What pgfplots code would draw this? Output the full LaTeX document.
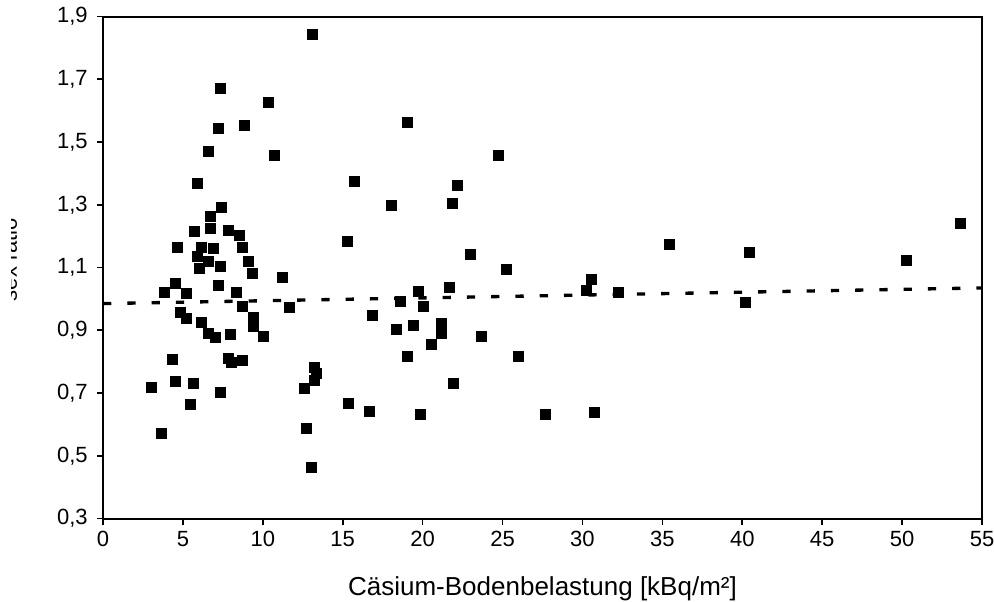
\documentclass[border=0pt]{standalone}
\usepackage{fontspec}
\setmainfont{Liberation Sans}
\usepackage{pgfplots}
\pgfplotsset{compat=1.18}

% sex ratio vs. caesium soil contamination
\pgfplotstableread{
x y
13.12 1.843
7.32 1.671
10.33 1.626
7.24 1.545
8.82 1.553
6.61 1.469
10.72 1.458
5.90 1.370
7.43 1.291
6.74 1.264
5.74 1.216
6.74 1.224
7.84 1.219
8.53 1.203
4.63 1.164
6.13 1.164
6.90 1.160
8.72 1.164
5.90 1.135
6.61 1.120
6.03 1.097
7.32 1.104
9.12 1.120
9.32 1.083
11.22 1.070
15.29 1.185
4.53 1.051
3.84 1.022
5.21 1.017
7.23 1.043
8.34 1.022
8.72 0.976
4.82 0.956
5.21 0.939
6.13 0.925
9.43 0.942
9.43 0.912
11.65 0.972
6.61 0.889
7.00 0.878
7.98 0.886
10.03 0.881
4.34 0.807
7.84 0.811
8.05 0.797
8.72 0.804
3.00 0.719
4.53 0.737
5.65 0.731
7.32 0.704
5.43 0.664
3.63 0.571
13.22 0.781
13.33 0.762
13.22 0.742
12.62 0.716
12.72 0.587
13.02 0.464
15.33 0.668
19.04 1.563
15.73 1.376
18.04 1.300
19.73 1.025
18.63 0.992
20.04 0.976
16.83 0.947
18.34 0.902
19.44 0.915
20.55 0.857
19.04 0.817
16.63 0.641
19.84 0.632
24.74 1.458
22.15 1.361
21.84 1.304
22.95 1.141
25.26 1.095
30.54 1.061
21.65 1.038
30.25 1.028
32.25 1.022
21.15 0.921
21.15 0.889
23.65 0.881
26.01 0.817
21.94 0.731
27.66 0.632
30.73 0.639
35.44 1.175
40.45 1.148
40.16 0.990
50.25 1.122
53.65 1.240
}\sexratio

\begin{document}
\begin{tikzpicture}
\begin{axis}[
  scale only axis,
  width=659.25pt,
  height=376.5pt,
  xmin=0, xmax=55,
  ymin=0.3, ymax=1.9,
  xtick={0,5,...,55},
  ytick={0.3,0.5,0.7,0.9,1.1,1.3,1.5,1.7,1.9},
  tick align=outside,
  tick pos=left,
  major tick length=4.5pt,
  axis line style={line width=1.5pt},
  every tick/.style={black, line width=1.2pt},
  tick label style={font=\fontsize{16.5}{19}\selectfont},
  /pgf/number format/assume math mode=true,
  yticklabel style={xshift=-3.5pt, /pgf/number format/.cd, fixed, fixed zerofill, precision=1, use comma},
  xticklabel style={yshift=-1.5pt},
  xlabel={Cäsium-Bodenbelastung [kBq/m²]},
  xlabel style={at={(axis description cs:0.5,0)}, anchor=base, yshift=-57.75pt,
    font=\fontsize{19.5}{23}\selectfont},
  clip=true,
]
\addplot[only marks, mark=square*, mark size=3.75pt, black] table {\sexratio};
\addplot[black, line width=2.5pt, dash pattern=on 6.2pt off 12pt] coordinates {(0,0.985) (55,1.035)};
\coordinate (sw) at (rel axis cs:0,0);
\coordinate (ne) at (rel axis cs:1,1);
\coordinate (ml) at (rel axis cs:0,0.5);
\end{axis}
\begin{scope}
  \clip ([xshift=-68.5pt, yshift=-40pt]sw) rectangle ([yshift=40pt]ne);
  \node[rotate=90, anchor=base, inner sep=0pt, font=\fontsize{16.5}{19}\selectfont]
    at ([xshift=-64.5pt, yshift=6pt]ml) {sex ratio};
\end{scope}
\pgfresetboundingbox
\path[use as bounding box] ([xshift=-77.25pt, yshift=-62.25pt]sw) rectangle ([xshift=9pt, yshift=12.4pt]ne);
\end{tikzpicture}
\end{document}
